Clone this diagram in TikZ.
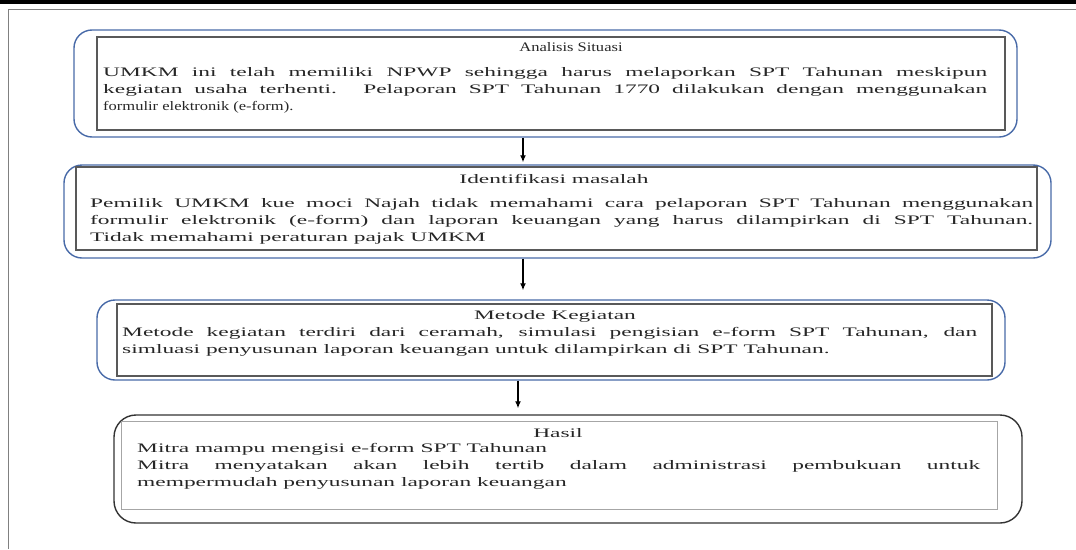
\documentclass[tikz,border=0pt]{standalone}
\usepackage{fontspec}
\setmainfont{Liberation Serif}[FakeStretch=1.8]
\newfontfamily\narrowfont{Liberation Serif}[FakeStretch=1.27]
\usetikzlibrary{arrows.meta,fit}
\definecolor{boxblue}{RGB}{72,106,168}
\definecolor{txtgray}{RGB}{38,38,38}
\newcommand{\bodysetup}{\fontsize{13}{17.2}\selectfont
  \setlength{\parindent}{0pt}\tolerance 9999 \hbadness 10000 }

\begin{document}
\begin{tikzpicture}[x=1pt,y=-1pt,
  every node/.style={inner sep=0pt,text=txtgray},
  outer/.style={draw=boxblue,line width=1.4pt,rounded corners=18pt},
  inner/.style={draw=black!65,line width=1.3pt},
  head/.style={font={\fontsize{13}{16}\selectfont}},
  body/.style={anchor=north west,align=justify,font={\bodysetup}},
  arr/.style={-{Latex[length=7pt,width=6pt]},line width=1.3pt,black}]
  \useasboundingbox (0,0) rectangle (1076,549);
  \fill[black] (0,0) rectangle (1076,4);
  \draw[black!50,line width=0.8pt] (1076,9) -- (8,9) -- (8,549);

  \node (b1) [outer,fit={(74,30) (1017,137)}] {};
  \node (r1) [inner,fit={(97,37) (1005,130)}] {};
  \node (h1) [head] at (571,47) {\narrowfont Analisis Situasi};
  \node (t1) [body,text width=884pt] at (103,67) {UMKM ini telah memiliki NPWP sehingga harus melaporkan SPT Tahunan meskipun\linebreak kegiatan usaha terhenti. Pelaporan SPT Tahunan 1770 dilakukan dengan menggunakan\linebreak {\narrowfont formulir elektronik (e-form).}};

  \node (b2) [outer,fit={(64,165) (1051,258)}] {};
  \node (r2) [inner,fit={(76,167) (1037,250)}] {};
  \node (h2) [head] at (554,179) {Identifikasi masalah};
  \node (t2) [body,text width=943pt] at (90,198) {Pemilik UMKM kue moci Najah tidak memahami cara pelaporan SPT Tahunan menggunakan\linebreak formulir elektronik (e-form) dan laporan keuangan yang harus dilampirkan di SPT Tahunan.\linebreak Tidak memahami peraturan pajak UMKM};

  \node (b3) [outer,fit={(97,300) (1005,380)}] {};
  \node (r3) [inner,fit={(117,304) (992,376)}] {};
  \node (h3) [head] at (555,316) {Metode Kegiatan};
  \node (t3) [body,text width=855pt] at (122,327) {Metode kegiatan terdiri dari ceramah, simulasi pengisian e-form SPT Tahunan, dan\linebreak simluasi penyusunan laporan keuangan untuk dilampirkan di SPT Tahunan.};

  \node (b4) [outer,draw=black!80,rounded corners=22pt,fit={(114,415) (1022,523)}] {};
  \node (r4) [inner,draw=black!35,line width=1pt,fit={(121,421) (997,509)}] {};
  \node (h4) [head] at (558,433) {Hasil};
  \node (t4) [body,text width=843pt] at (137,443) {Mitra mampu mengisi e-form SPT Tahunan\par Mitra menyatakan akan lebih tertib dalam administrasi pembukuan untuk\linebreak mempermudah penyusunan laporan keuangan};

  \coordinate (p1) at (523,0);
  \coordinate (p3) at (518,0);
  \draw[arr,shorten >=2pt] (b1.south -| p1) -- (b2.north -| p1);
  \draw[arr,shorten >=9pt] (b2.south -| p1) -- (b3.north -| p1);
  \draw[arr,shorten >=6pt] (b3.south -| p3) -- (b4.north -| p3);
\end{tikzpicture}
\end{document}
